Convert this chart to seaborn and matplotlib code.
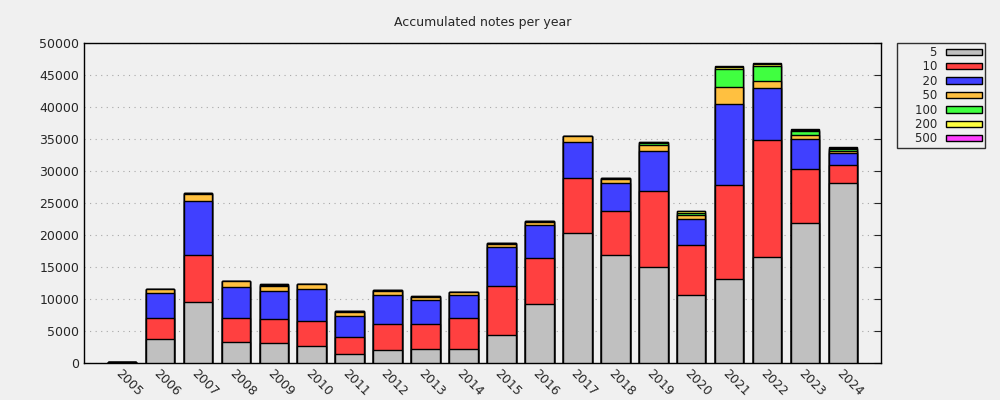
"""
Accumulated notes per year, stacked bars by note denomination.
"""
import numpy as np
import pandas as pd
import matplotlib
matplotlib.use("Agg")
import matplotlib.pyplot as plt
import matplotlib.patches as mpatches
import seaborn as sns

YEARS = [str(y) for y in range(2005, 2025)]
DENOMS = ["5", "10", "20", "50", "100", "200", "500"]

# counts per denomination
N5   = [150, 3700, 9500, 3230, 3070, 2600, 1360, 1980, 2140, 2140, 4330, 9170, 20300, 16800, 14950, 10700, 13100, 16500, 21800, 28100]
N10  = [50, 3300, 7300, 3750, 3750, 3900, 2640, 4060, 3900, 4840, 7670, 7230, 8600, 6900, 11850, 7700, 14700, 18300, 8450, 2800]
N20  = [20, 3900, 8500, 4820, 4380, 5000, 3300, 4560, 3760, 3620, 6200, 5200, 5700, 4500, 6400, 4050, 12600, 8100, 4700, 1900]
N50  = [10, 650, 1100, 1000, 900, 800, 650, 600, 500, 450, 400, 400, 800, 500, 800, 750, 2800, 1100, 650, 300]
N100 = [0, 50, 150, 50, 150, 50, 100, 150, 80, 80, 80, 150, 80, 150, 300, 300, 2700, 2400, 600, 300]
N200 = [0, 0, 50, 0, 50, 0, 50, 50, 20, 20, 20, 50, 20, 50, 200, 300, 300, 300, 250, 200]
N500 = [0, 0, 0, 0, 0, 0, 0, 0, 0, 0, 0, 0, 0, 0, 0, 0, 150, 100, 100, 150]

COLORS = ["#c0c0c0", "#ff4040", "#4040ff", "#ffc040", "#40ff40", "#ffff40", "#ff40ff"]
BG = "#f0f0f0"

sns.set_style("white")
plt.rcParams["font.family"] = ["DejaVu Sans"]

df = pd.DataFrame({"year": YEARS, "5": N5, "10": N10, "20": N20, "50": N50,
                   "100": N100, "200": N200, "500": N500})
cum = df[DENOMS].cumsum(axis=1)
cum["year"] = df["year"]

fig = plt.figure(figsize=(10, 4), dpi=100, facecolor=BG)
ax = fig.add_axes([0.084, 0.0925, 0.797, 0.8])
ax.set_facecolor(BG)

# draw tallest cumulative first so lower stacks sit on top
for d, c in reversed(list(zip(DENOMS, COLORS))):
    sns.barplot(data=cum, x="year", y=d, order=YEARS, color=c, saturation=1,
                width=0.75, edgecolor="black", linewidth=1.0, ax=ax, zorder=3)

ax.set_xlim(-1, 20)
ax.set_ylim(0, 50000)
ax.set_yticks(np.arange(0, 50001, 5000))
ax.set_xlabel("")
ax.set_ylabel("")
ax.yaxis.grid(True, color="#a8a8a8", linestyle=(0, (1, 4)), linewidth=0.8, zorder=0)
ax.tick_params(axis="y", direction="in", length=5, right=True, labelsize=9, width=0.8)
ax.tick_params(axis="x", length=0, labelsize=9, pad=3)
for lbl in ax.get_xticklabels():
    lbl.set_rotation(-45)
    lbl.set_ha("left")
    lbl.set_rotation_mode("anchor")
for s in ax.spines.values():
    s.set_color("black")
    s.set_linewidth(1.0)

ax.set_title("Accumulated notes per year", fontsize=9, pad=12)

# right-aligned labels, gnuplot style
width = max(len(d) for d in DENOMS) + 2
handles = [mpatches.Patch(facecolor=c, edgecolor="black", linewidth=1.0,
                          label="\u2007" * (width - len(d)) + d)
           for d, c in zip(DENOMS, COLORS)]
leg = fig.legend(handles=handles, loc="upper left", bbox_to_anchor=(0.897, 0.8925),
                 markerfirst=False, fontsize=8.5, frameon=True, fancybox=False,
                 handlelength=3.1, handleheight=0.45, labelspacing=0.12,
                 borderpad=0.25, handletextpad=0.7, borderaxespad=0)
leg.get_frame().set_edgecolor("black")
leg.get_frame().set_facecolor(BG)
leg.get_frame().set_linewidth(1.0)

plt.savefig("out.png", dpi=100, facecolor=BG)
plt.close()
